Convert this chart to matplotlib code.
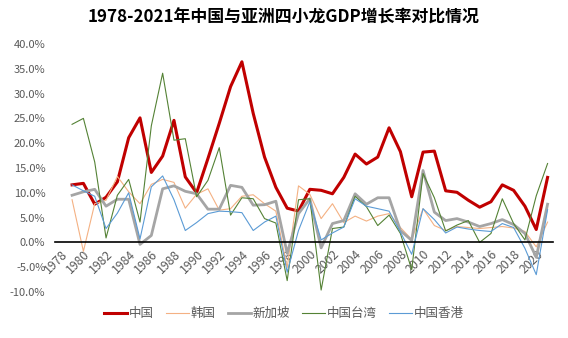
import numpy as np
import matplotlib.pyplot as plt

plt.rcParams['font.family'] = ['Noto Sans CJK SC', 'DejaVu Sans']

# 年份（1978 无数据）
years = list(range(1978, 2022))

# 增长率 %, 1979-2021
china = [11.6, 11.9, 7.7, 9.1, 12.2, 21.1, 25.1, 14.1, 17.4, 24.6,
         13.2, 10.0, 16.9, 24.0, 31.4, 36.4, 26.0, 17.2, 11.1, 6.9,
         6.3, 10.7, 10.5, 9.8, 13.1, 17.8, 15.8, 17.2, 23.1, 18.3,
         9.2, 18.2, 18.4, 10.4, 10.1, 8.5, 7.1, 8.2, 11.6, 10.5,
         7.3, 2.6, 13.1]
korea = [8.6, -1.8, 7.8, 8.5, 13.3, 10.2, 7.8, 11.7, 12.7, 12.1,
         6.9, 9.7, 10.8, 6.5, 6.8, 9.3, 9.6, 7.8, 6.3, -5.1,
         11.4, 9.7, 4.8, 7.8, 4.0, 5.3, 4.3, 5.3, 5.8, 3.0,
         0.6, 6.8, 3.4, 2.4, 3.2, 3.0, 2.8, 3.0, 3.2, 2.9,
         2.2, -0.9, 4.1]
singapore = [9.5, 10.2, 10.7, 7.3, 8.7, 8.7, -0.4, 1.4, 10.8, 11.4,
             10.3, 9.8, 6.7, 6.7, 11.5, 11.1, 7.5, 7.6, 8.3, -2.2,
             5.8, 8.8, -1.1, 3.8, 4.4, 9.8, 7.7, 9.0, 9.0, 2.4,
             0.4, 14.5, 6.1, 4.4, 4.8, 4.1, 3.2, 3.8, 4.6, 3.6,
             1.8, -3.0, 7.7]
taiwan = [23.8, 25.0, 16.2, 0.9, 9.5, 12.7, 4.1, 23.5, 34.1, 20.6,
          20.9, 9.2, 12.5, 19.1, 5.5, 9.0, 8.8, 4.8, 3.9, -7.7,
          8.6, 8.8, -9.6, 2.8, 3.1, 9.3, 7.2, 3.4, 5.5, 1.8,
          -5.5, 13.9, 9.0, 2.3, 3.5, 4.4, 0.0, 1.8, 8.8, 3.8,
          0.5, 9.4, 15.9]
hongkong = [11.6, 10.4, 9.3, 2.8, 5.9, 10.0, 0.7, 11.2, 13.4, 8.6,
            2.4, 4.0, 5.8, 6.3, 6.2, 6.0, 2.4, 4.1, 5.3, -6.0,
            2.4, 8.2, 0.5, 1.9, 3.1, 8.8, 7.3, 6.8, 6.3, 2.1,
            -2.4, 6.8, 4.6, 1.9, 3.1, 2.7, 2.4, 2.2, 3.8, 3.0,
            -1.2, -6.5, 6.6]

names = ['中国', '韩国', '新加坡', '中国台湾', '中国香港']
colors = ['#C00000', '#F4B183', '#A5A5A5', '#548235', '#5B9BD5']
widths = [2.2, 0.8, 2.0, 0.8, 0.8]

fig = plt.figure(figsize=(5.68, 3.38), dpi=100)
ax = fig.add_axes([0.097, 0.136, 0.877, 0.734])

# 先设置横轴位置（会重置刻度）
for s in ['top', 'right', 'left']:
    ax.spines[s].set_visible(False)
ax.spines['bottom'].set_position(('data', 0))
ax.spines['bottom'].set_color('black')
ax.spines['bottom'].set_linewidth(1.2)

x = np.arange(1, len(years))
for vals, name, c, lw in zip([china, korea, singapore, taiwan, hongkong], names, colors, widths):
    ax.plot(x, vals, color=c, lw=lw, label=name)

ax.set_xlim(-0.5, len(years) - 0.5)
ax.set_ylim(-10, 40)
ax.set_yticks(np.arange(-10, 41, 5))
ax.set_yticklabels([f'{v:.1f}%' for v in np.arange(-10, 41, 5)])

ax.set_xticks(np.arange(0, len(years), 2))
ax.set_xticklabels([str(y) for y in years[::2]], rotation=45, ha='right',
                   rotation_mode='anchor')

ax.tick_params(axis='both', length=0, colors='#595959')
ax.tick_params(axis='y', pad=7, labelsize=8)
ax.tick_params(axis='x', pad=4, labelsize=8.8)

fig.suptitle('1978-2021年中国与亚洲四小龙GDP增长率对比情况', fontsize=12.2,
             fontweight='bold', y=0.975)

leg = fig.legend(loc='center', bbox_to_anchor=(0.5, 0.072), ncol=5, frameon=False,
                 fontsize=9, handlelength=1.8, handletextpad=0.15, columnspacing=1.0)
for t in leg.get_texts():
    t.set_color('#595959')

fig.savefig('out.png', dpi=100)
